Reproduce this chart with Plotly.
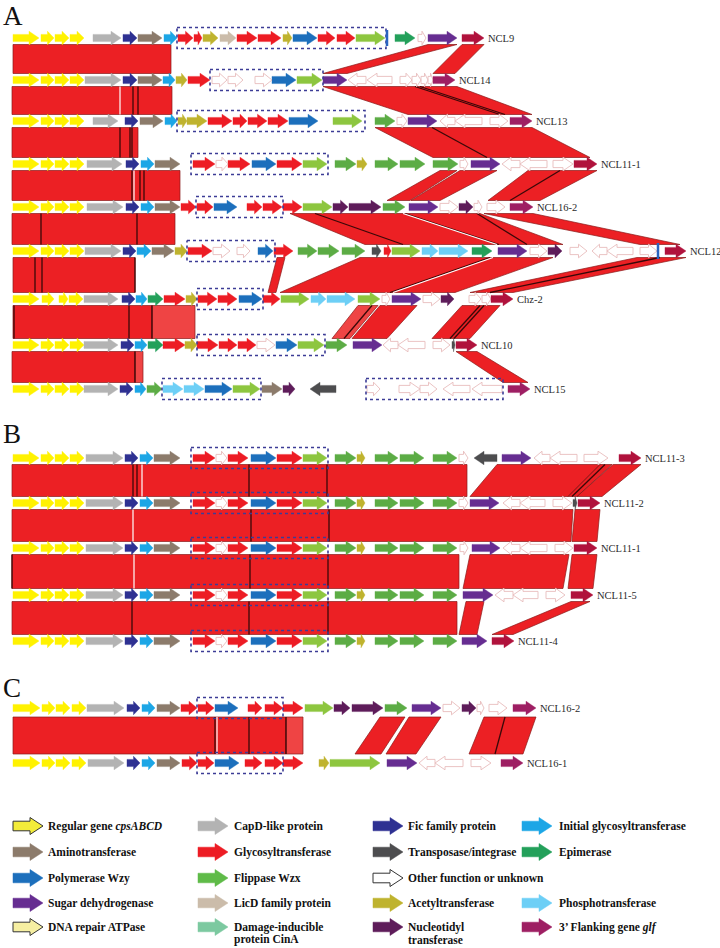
import plotly.graph_objects as go

# ================= DATA =================
# genes: (start, end, type); start > end means the gene points left
CPS = [(13, 39, 'Y'), (41, 54, 'Y'), (55, 69, 'Y'), (70, 84, 'Y')]

NCL9 = CPS + [(93, 121, 'G'), (123, 137, 'F'), (138, 162, 'A'), (164, 177, 'I'), (178, 193, 'R'),
              (194, 202, 'R'), (203, 218, 'C'), (220, 236, 'L'), (237, 257, 'R'), (258, 281, 'R'),
              (283, 292, 'C'), (293, 317, 'P'), (318, 335, 'R'), (337, 355, 'R'), (356, 385, 'W'),
              (395, 415, 'E'), (418, 426, 'O'), (428, 457, 'S'), (462, 484, 'k')]
NCL14 = CPS + [(85, 121, 'G'), (123, 137, 'F'), (138, 162, 'A'), (163, 175, 'I'), (176, 187, 'C'),
               (188, 210, 'R'), (212, 227, 'O'), (228, 243, 'O'), (255, 272, 'O'), (272, 296, 'P'),
               (297, 322, 'W'), (323, 347, 'S'), (366, 348, 'O'), (392, 367, 'O'), (400, 412, 'O'),
               (412, 421, 'O'), (421, 428, 'O'), (428, 433, 'O'), (433, 455, 'K')]
NCL13 = CPS + [(93, 118, 'G'), (125, 138, 'F'), (140, 163, 'A'), (165, 177, 'I'), (178, 187, 'C'),
               (187, 207, 'C'), (208, 232, 'R'), (233, 247, 'R'), (248, 267, 'R'), (268, 288, 'R'),
               (289, 318, 'P'), (333, 362, 'W'), (375, 395, 'w'), (397, 407, 'O'), (408, 437, 'S'),
               (455, 440, 'O'), (482, 455, 'O'), (490, 508, 'O'), (510, 532, 'K')]
NCL11_1A = CPS + [(87, 122, 'G'), (126, 139, 'F'), (141, 154, 'I'), (155, 180, 'A'), (193, 215, 'R'),
                  (216, 228, 'O'), (228, 250, 'R'), (252, 276, 'P'), (277, 302, 'R'), (303, 327, 'W'),
                  (335, 356, 'w'), (357, 367, 'C'), (375, 398, 'w'), (400, 425, 'w'), (433, 458, 'w'),
                  (460, 468, 'O'), (471, 500, 'S'), (520, 502, 'O'), (547, 520, 'O'), (553, 573, 'O'),
                  (574, 597, 'k')]
NCL16_2A = CPS + [(87, 123, 'G'), (126, 139, 'F'), (141, 154, 'I'), (155, 180, 'A'), (181, 196, 'R'),
                  (197, 213, 'R'), (214, 237, 'P'), (247, 262, 'R'), (263, 282, 'R'), (283, 302, 'R'),
                  (303, 332, 'W'), (333, 348, 'N'), (349, 381, 'N'), (383, 405, 'w'), (409, 438, 'S'),
                  (440, 458, 'O'), (459, 473, 'N'), (474, 482, 'O'), (487, 505, 'O'), (510, 533, 'K')]
NCL12 = CPS + [(85, 121, 'G'), (123, 136, 'F'), (137, 151, 'I'), (152, 174, 'A'), (175, 187, 'C'),
               (188, 212, 'R'), (213, 230, 'O'), (237, 250, 'O'), (258, 273, 'P'), (274, 293, 'R'),
               (298, 317, 'w'), (318, 339, 'w'), (342, 365, 'w'), (372, 381, 'T'), (384, 391, 'R'),
               (392, 420, 'W'), (422, 438, 'H'), (439, 468, 'H'), (472, 492, 'E'), (498, 527, 'S'),
               (530, 547, 'O'), (548, 562, 'N'), (570, 587, 'O'), (607, 592, 'O'), (633, 607, 'O'),
               (640, 657, 'O'), (665, 686, 'k')]
CHZ2 = [(13, 39, 'Y'), (42, 54, 'Y'), (59, 68, 'Y'), (69, 83, 'Y'), (84, 118, 'G'), (122, 135, 'F'),
        (136, 147, 'I'), (148, 163, 'E'), (164, 185, 'R'), (186, 197, 'C'), (198, 217, 'R'),
        (218, 237, 'R'), (239, 262, 'P'), (263, 280, 'R'), (281, 309, 'W'), (311, 326, 'H'),
        (327, 355, 'H'), (358, 380, 'W'), (382, 390, 'O'), (392, 421, 'S'), (423, 440, 'O'),
        (441, 454, 'N'), (469, 481, 'O'), (482, 491, 'O'), (491, 513, 'k')]
NCL10 = CPS + [(84, 118, 'G'), (121, 134, 'F'), (135, 147, 'I'), (148, 163, 'E'), (163, 185, 'R'),
               (185, 197, 'C'), (197, 218, 'R'), (219, 237, 'R'), (238, 256, 'R'), (257, 275, 'O'),
               (276, 297, 'P'), (298, 324, 'W'), (326, 347, 'w'), (353, 382, 'S'), (398, 383, 'O'),
               (425, 398, 'O'), (433, 450, 'O'), (452, 455, 'T'), (456, 477, 'k')]
NCL15 = CPS + [(84, 118, 'G'), (120, 133, 'F'), (135, 146, 'I'), (147, 162, 'w'), (163, 183, 'H'),
               (184, 204, 'H'), (205, 232, 'P'), (233, 260, 'W'), (262, 282, 'A'), (283, 295, 'N'),
               (336, 310, 'T'), (367, 380, 'O'), (399, 420, 'O'), (420, 437, 'O'), (470, 443, 'O'),
               (502, 472, 'O'), (508, 530, 'K')]

B_CORE = CPS + [(86, 123, 'G'), (125, 138, 'F'), (140, 153, 'I'), (154, 180, 'A'), (193, 215, 'R'),
                (216, 227, 'O'), (228, 248, 'R'), (251, 276, 'P'), (277, 302, 'R'), (303, 327, 'W'),
                (335, 356, 'w'), (357, 365, 'C'), (375, 398, 'w'), (400, 424, 'w'), (433, 457, 'w')]
NCL11_3 = B_CORE + [(459, 468, 'O'), (497, 474, 'T'), (502, 531, 'S'), (550, 534, 'O'),
                    (577, 550, 'O'), (584, 608, 'O'), (619, 641, 'k')]
NCL11_2 = B_CORE + [(459, 468, 'O'), (470, 499, 'S'), (520, 503, 'O'), (545, 520, 'O'),
                    (553, 572, 'O'), (573, 577, 'T'), (578, 600, 'k')]
NCL11_1B = B_CORE + [(460, 468, 'O'), (472, 500, 'S'), (520, 503, 'O'), (547, 520, 'O'),
                     (555, 573, 'O'), (574, 597, 'k')]
NCL11_5 = B_CORE + [(463, 493, 'S'), (513, 495, 'O'), (538, 513, 'O'), (546, 565, 'O'),
                    (571, 593, 'k')]
NCL11_4 = B_CORE + [(462, 487, 'S'), (492, 514, 'k')]

NCL16_2C = [(13, 40, 'Y'), (42, 55, 'Y'), (56, 70, 'Y'), (72, 86, 'Y'), (87, 124, 'G'), (127, 140, 'F'),
            (142, 155, 'I'), (157, 180, 'A'), (181, 197, 'R'), (198, 214, 'R'), (215, 238, 'P'),
            (248, 262, 'R'), (265, 283, 'R'), (283, 303, 'R'), (305, 333, 'W'), (334, 350, 'N'),
            (352, 383, 'N'), (385, 407, 'w'), (412, 441, 'S'), (443, 460, 'O'), (462, 476, 'N'),
            (477, 484, 'O'), (489, 507, 'O'), (513, 536, 'K')]
NCL16_1C = [(13, 40, 'Y'), (42, 55, 'Y'), (56, 70, 'Y'), (72, 86, 'Y'), (88, 124, 'G'), (127, 140, 'F'),
            (142, 155, 'I'), (157, 180, 'A'), (182, 197, 'R'), (198, 214, 'R'), (215, 239, 'P'),
            (245, 262, 'R'), (265, 283, 'R'), (283, 303, 'R'), (319, 329, 'C'), (330, 380, 'W'),
            (387, 417, 'S'), (435, 419, 'O'), (463, 435, 'O'), (471, 491, 'O'), (501, 523, 'K')]

ROW_LABELS = ["NCL9", "NCL14", "NCL13", "NCL11-1", "NCL16-2", "NCL12", "Chz-2", "NCL10", "NCL15",
              "NCL11-3", "NCL11-2", "NCL11-1", "NCL11-5", "NCL11-4", "NCL16-2", "NCL16-1"]
ROW_GENES = [NCL9, NCL14, NCL13, NCL11_1A, NCL16_2A, NCL12, CHZ2, NCL10, NCL15,
             NCL11_3, NCL11_2, NCL11_1B, NCL11_5, NCL11_4, NCL16_2C, NCL16_1C]

# dashed boxes: (row, start, end)
BOXES = [(0, 177, 386), (1, 210, 323), (2, 177, 365), (3, 191, 328), (4, 196, 283), (5, 187, 275),
         (6, 197, 263), (7, 197, 325), (8, 162, 261), (8, 366, 503),
         (9, 191, 328), (10, 191, 328), (11, 191, 328), (12, 191, 328), (13, 191, 328),
         (14, 197, 283), (15, 197, 283)]
# small blue markers: (row, position)
MARKS = [(0, 387), (5, 658)]

# homology blocks: (upper row, lower row, upper start, upper end, lower start, lower end, shade)
BLOCKS = [
    (0, 1, 13, 171, 13, 171, 0), (0, 1, 428, 457, 323, 347, 0), (0, 1, 462, 484, 433, 455, 0),
    (1, 2, 12, 172, 12, 172, 0), (1, 2, 323, 457, 408, 532, 0),
    (2, 3, 12, 138, 12, 138, 0), (2, 3, 375, 532, 433, 590, 0),
    (3, 4, 12, 180, 12, 180, 0), (3, 4, 440, 457, 387, 410, 0), (3, 4, 460, 497, 411, 440, 0),
    (3, 4, 528, 597, 488, 540, 0),
    (4, 5, 12, 175, 12, 175, 0), (4, 5, 290, 480, 365, 563, 0), (4, 5, 484, 533, 640, 680, 0),
    (5, 6, 13, 135, 13, 135, 0), (5, 6, 277, 285, 268, 276, 0), (5, 6, 360, 553, 280, 455, 0),
    (5, 6, 637, 686, 470, 513, 0),
    (6, 7, 13, 152, 13, 152, 0), (6, 7, 152, 195, 152, 195, 1), (6, 7, 358, 378, 332, 350, 1),
    (6, 7, 380, 417, 352, 387, 0), (6, 7, 462, 500, 432, 470, 0),
    (7, 8, 12, 135, 12, 135, 0), (7, 8, 135, 143, 135, 143, 1), (7, 8, 456, 477, 503, 528, 0),
    (9, 10, 12, 467, 12, 467, 0), (9, 10, 497, 600, 470, 568, 0), (9, 10, 600, 612, 568, 577, 0),
    (9, 10, 613, 641, 577, 602, 0),
    (10, 11, 12, 573, 12, 571, 0), (10, 11, 575, 600, 572, 597, 0),
    (11, 12, 12, 459, 12, 459, 0), (11, 12, 470, 569, 463, 563, 0), (11, 12, 572, 597, 568, 593, 0),
    (12, 13, 12, 457, 12, 457, 0), (12, 13, 466, 484, 459, 477, 0), (12, 13, 571, 590, 492, 513, 0),
    (14, 15, 13, 286, 13, 286, 0), (14, 15, 286, 303, 286, 303, 1), (14, 15, 380, 405, 355, 381, 0),
    (14, 15, 409, 441, 386, 416, 0), (14, 15, 484, 536, 469, 523, 0),
]
# boundary lines inside blocks: (upper row, upper pos, lower pos, kind)
SEAMS = [
    (1, 120, 120, 'w'), (1, 133, 133, 'd'), (1, 138, 138, 'd'), (1, 415, 500, 'd'), (1, 420, 505, 'd'),
    (2, 120, 120, 'd'), (2, 130, 130, 'd'), (2, 132, 132, 'd'), (2, 432, 487, 'd'),
    (3, 132, 132, 'd'), (3, 134, 134, 'w'), (3, 140, 140, 'd'), (3, 144, 144, 'd'), (3, 560, 510, 'd'),
    (4, 41, 41, 'd'), (4, 137, 137, 'd'), (4, 315, 403, 'd'), (4, 403, 497, 'w'), (4, 405, 499, 'd'),
    (4, 477, 527, 'd'),
    (5, 35, 35, 'd'), (5, 42, 42, 'd'), (5, 135, 135, 'd'), (5, 493, 393, 'w'), (5, 490, 390, 'd'),
    (5, 660, 490, 'd'),
    (6, 14, 14, 'd'), (6, 129, 129, 'd'), (6, 152, 152, 'd'), (6, 372, 344, 'd'), (6, 480, 450, 'd'),
    (6, 484, 454, 'd'),
    (7, 135, 135, 'd'),
    (9, 133, 133, 'd'), (9, 137, 137, 'd'), (9, 142, 142, 'w'), (9, 249, 249, 'd'), (9, 327, 327, 'd'),
    (9, 605, 572, 'd'),
    (10, 133, 133, 'w'), (10, 251, 251, 'd'), (10, 329, 329, 'd'),
    (11, 12, 12, 'd'), (11, 134, 134, 'w'), (11, 250, 250, 'd'), (11, 328, 328, 'd'),
    (12, 132, 132, 'd'), (12, 249, 249, 'd'), (12, 328, 328, 'd'),
    (14, 215, 215, 'd'), (14, 217, 217, 'w'), (14, 249, 249, 'd'), (14, 286, 286, 'd'), (14, 505, 495, 'd'),
]

# legend: (column, row, type, text lines)
LEGEND = [
    (0, 0, 'LY', ["Regular gene <i>cpsABCD</i>"]), (0, 1, 'A', ["Aminotransferase"]),
    (0, 2, 'P', ["Polymerase Wzy"]), (0, 3, 'S', ["Sugar dehydrogenase"]),
    (0, 4, 'LD', ["DNA repair ATPase"]),
    (1, 0, 'G', ["CapD-like protein"]), (1, 1, 'R', ["Glycosyltransferase"]),
    (1, 2, 'LW', ["Flippase Wzx"]), (1, 3, 'L', ["LicD family protein"]),
    (1, 4, 'Q', ["Damage-inducible", "protein CinA"]),
    (2, 0, 'F', ["Fic family protein"]), (2, 1, 'T', ["Transposase/integrase"]),
    (2, 2, 'LO', ["Other function or unknown"]), (2, 3, 'C', ["Acetyltransferase"]),
    (2, 4, 'N', ["Nucleotidyl", "transferase"]),
    (3, 0, 'I', ["Initial glycosyltransferase"]), (3, 1, 'E', ["Epimerase"]),
    (3, 3, 'H', ["Phosphotransferase"]), (3, 4, 'K', ["3\u2019 Flanking gene <i>glf</i>"]),
]
PANELS = [("A", 16), ("B", 434), ("C", 688)]

# ================= STYLE / LAYOUT =================
COL = {'Y': '#fff200', 'G': '#b3b3b3', 'F': '#2e3192', 'A': '#8c7b6b', 'I': '#1ca6e6', 'R': '#ed1c24',
       'C': '#bfb32e', 'L': '#cbbcaa', 'P': '#1c6fbc', 'W': '#8dc63f', 'w': '#5cac45', 'E': '#23a05a',
       'S': '#662d91', 'N': '#5e1c5a', 'T': '#4d4d4f', 'H': '#6dcff6', 'O': '#ffffff', 'K': '#9e1f63',
       'k': '#b0123c', 'Q': '#7cc9a0', 'LY': '#f3ec3a', 'LD': '#f6efa2', 'LW': '#5fbb48', 'LO': '#ffffff'}
ROW_Y = [38, 80, 121, 164, 207, 251, 299, 345, 389, 458, 503, 548, 595, 641, 708, 763]
GAP = [6.5] * 14 + [9, 9]
LEG_X = [13, 198, 373, 522]
LEG_TX = [46, 232, 406, 557]
LEG_Y = [826, 852, 878, 903, 927]
SERIF = "Liberation Serif, Times New Roman, serif"


def arrow(s, e, yc, hb=3.6, hh=6.8, hmax=10.0):
    d = 1 if e >= s else -1
    L = abs(e - s)
    head = min(hmax, 0.5 * L)
    n = e - d * head
    return ([s, n, n, e, n, n, s, s, None],
            [yc - hb, yc - hb, yc - hh, yc, yc + hh, yc + hb, yc + hb, yc - hb, None])


fig = go.Figure()

# homology blocks
for shade, colr in [(0, '#ec2024'), (1, '#ef4444')]:
    xs, ys = [], []
    for (r1, r2, a0, a1, b0, b1, sh) in BLOCKS:
        if sh != shade:
            continue
        yt = ROW_Y[r1] + GAP[r1]
        yb = ROW_Y[r2] - GAP[r1]
        xs += [a0, a1, b1, b0, a0, None]
        ys += [yt, yt, yb, yb, yt, None]
    fig.add_trace(go.Scatter(x=xs, y=ys, mode='lines', fill='toself', fillcolor=colr,
                             line=dict(color='#8a1a1a', width=0.7), hoverinfo='skip', showlegend=False))

for kind, colr, wid in [('d', '#3a0808', 1.3), ('w', '#ffffff', 1.2)]:
    xs, ys = [], []
    for (r1, xt, xb, k) in SEAMS:
        if k != kind:
            continue
        r2 = r1 + 1
        xs += [xt, xb, None]
        ys += [ROW_Y[r1] + GAP[r1], ROW_Y[r2] - GAP[r1], None]
    fig.add_trace(go.Scatter(x=xs, y=ys, mode='lines', line=dict(color=colr, width=wid),
                             hoverinfo='skip', showlegend=False))

# genes
for t in COL:
    xs, ys = [], []
    for ri, genes in enumerate(ROW_GENES):
        for (s, e, typ) in genes:
            if typ == t:
                ax, ay = arrow(s, e, ROW_Y[ri])
                xs += ax
                ys += ay
    if not xs:
        continue
    if t == 'O':
        ln = dict(color='#e8bcbc', width=0.9)
    else:
        ln = dict(color=COL[t], width=0.4)
    fig.add_trace(go.Scatter(x=xs, y=ys, mode='lines', fill='toself', fillcolor=COL[t], line=ln,
                             hoverinfo='skip', showlegend=False))

# dashed boxes
xs, ys = [], []
for (ri, s, e) in BOXES:
    yc = ROW_Y[ri]
    xs += [s, e, e, s, s, None]
    ys += [yc - 10.5, yc - 10.5, yc + 10.5, yc + 10.5, yc - 10.5, None]
fig.add_trace(go.Scatter(x=xs, y=ys, mode='lines', line=dict(color='#3c3c96', width=1.6, dash='dot'),
                         hoverinfo='skip', showlegend=False))

xs, ys = [], []
for (ri, p) in MARKS:
    xs += [p, p, None]
    ys += [ROW_Y[ri] - 8, ROW_Y[ri] + 8, None]
fig.add_trace(go.Scatter(x=xs, y=ys, mode='lines', line=dict(color='#2a64c0', width=2.5),
                         hoverinfo='skip', showlegend=False))

# row labels
for ri, (lab, genes) in enumerate(zip(ROW_LABELS, ROW_GENES)):
    xe = max(max(s, e) for (s, e, _) in genes)
    fig.add_annotation(x=xe + 2, y=ROW_Y[ri], text=lab, showarrow=False, xanchor='left', yanchor='middle',
                       font=dict(family=SERIF, size=10.5, color='#2b2b2b'))

for (p, yy) in PANELS:
    fig.add_annotation(x=1, y=yy, text=p, showarrow=False, xanchor='left', yanchor='middle',
                       font=dict(family=SERIF, size=27, color='#111111'))

# legend
for (c, r, t, lines) in LEGEND:
    yc = LEG_Y[r]
    ax, ay = arrow(LEG_X[c], LEG_X[c] + 30, yc, hb=4.8, hh=8.5, hmax=13)
    outlined = t in ('LY', 'LD', 'LO')
    ln = dict(color='#333333', width=1.0) if outlined else dict(color=COL[t], width=0.5)
    fig.add_trace(go.Scatter(x=ax, y=ay, mode='lines', fill='toself', fillcolor=COL[t], line=ln,
                             hoverinfo='skip', showlegend=False))
    for li, txt in enumerate(lines):
        fig.add_annotation(x=LEG_TX[c], y=yc + li * 12.5, text='<b>' + txt + '</b>', showarrow=False,
                           xanchor='left', yanchor='middle',
                           font=dict(family=SERIF, size=11.5, color='#111111'))

fig.update_layout(width=720, height=948, margin=dict(l=0, r=0, t=0, b=0),
                  paper_bgcolor='white', plot_bgcolor='white', showlegend=False,
                  xaxis=dict(range=[0, 720], visible=False, fixedrange=True),
                  yaxis=dict(range=[948, 0], visible=False, fixedrange=True))
fig.write_html("out.html", config={'displayModeBar': False},
               post_script="document.body.style.margin='0';document.body.style.overflow='hidden';")
